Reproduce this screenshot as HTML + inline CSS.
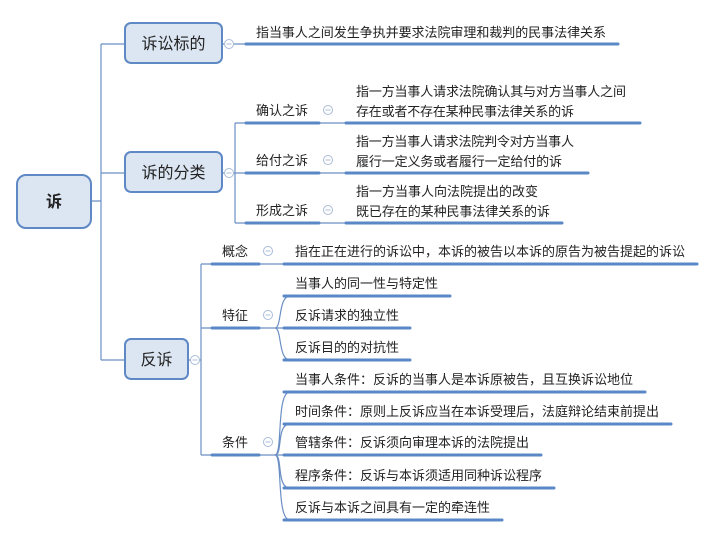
<!DOCTYPE html>
<html><head><meta charset="utf-8"><style>
html,body{margin:0;padding:0;background:#fff;}
svg{display:block;}
text{font-family:"Liberation Sans","Noto Sans CJK SC",sans-serif;fill:#222;}
.t{font-size:13px;}
.b{font-size:16px;}
</style></head><body>
<svg width="715" height="537" viewBox="0 0 715 537" xmlns="http://www.w3.org/2000/svg">
<g fill="none" stroke="#6b8fc4" stroke-width="1.2">
<path d="M91 201 H101 M101 44 V360 M101 44 H125 M101 173 H125 M101 360 H125"/>
<path d="M222 44 H245 M222 173 H235 M235 123 V223 M235 123 H245 M235 173 H245 M235 223 H245"/>
<path d="M320 123 H345 M320 173 H345 M320 223 H345"/>
<path d="M188 360 H201 M201 264 V455 M201 264 H211 M201 328 H211 M201 455 H211"/>
<path d="M260 264 H283 M260 328 H283 M260 455 H283"/>
<path d="M275 328 C282 328 278 296 290 296 M275 328 C282 328 278 360 290 360"/>
<path d="M275 455 C283 455 276 392 290 392 M275 455 C283 455 276 424 290 424 M275 455 C283 455 276 488 290 488 M275 455 C283 455 276 520 290 520"/>
</g>
<g stroke="#5a87c6" stroke-width="3" stroke-linecap="round">
<path d="M246 44 H618"/>
<path d="M246 123 H319 M246 173 H319 M246 223 H319"/>
<path d="M346 123 H640 M346 173 H588 M346 223 H562"/>
<path d="M212 264 H259 M212 328 H259 M212 455 H259"/>
<path d="M284 264 H697"/>
<path d="M284 296 H450 M284 328 H410 M284 360 H410"/>
<path d="M284 392 H645 M284 424 H671 M284 455 H541 M284 488 H554 M284 520 H502"/>
</g>
<g fill="#dce6f2" stroke="#5f89c4" stroke-width="2">
<rect x="17" y="175" width="74" height="53" rx="9"/>
<rect x="125" y="23" width="97" height="40" rx="6"/>
<rect x="125" y="152" width="97" height="40" rx="6"/>
<rect x="125" y="339" width="63" height="40" rx="6"/>
</g>
<g fill="#fff" stroke="#a9bcd8" stroke-width="1">
<circle cx="229" cy="44" r="4.5"/><circle cx="229" cy="173" r="4.5"/><circle cx="195" cy="360" r="4.5"/>
<circle cx="328" cy="110" r="4.5"/><circle cx="328" cy="160" r="4.5"/><circle cx="328" cy="210" r="4.5"/>
<circle cx="268" cy="251" r="4.5"/><circle cx="268" cy="315" r="4.5"/><circle cx="268" cy="442" r="4.5"/>
</g>
<g stroke="#a9bcd8" stroke-width="1">
<path d="M226.5 44 H231.5 M226.5 173 H231.5 M192.5 360 H197.5 M325.5 110 H330.5 M325.5 160 H330.5 M325.5 210 H330.5 M265.5 251 H270.5 M265.5 315 H270.5 M265.5 442 H270.5"/>
</g>
<text x="54" y="207" class="b" text-anchor="middle" font-weight="bold" fill="#333">诉</text>
<text x="173.5" y="49" class="b" text-anchor="middle">诉讼标的</text>
<text x="173.5" y="178" class="b" text-anchor="middle">诉的分类</text>
<text x="156.5" y="365" class="b" text-anchor="middle">反诉</text>
<g class="t">
<text x="256" y="37" textLength="350">指当事人之间发生争执并要求法院审理和裁判的民事法律关系</text>
<text x="256" y="115">确认之诉</text>
<text x="256" y="165">给付之诉</text>
<text x="256" y="215">形成之诉</text>
<text x="356" y="96" textLength="270">指一方当事人请求法院确认其与对方当事人之间</text>
<text x="356" y="116" textLength="218">存在或者不存在某种民事法律关系的诉</text>
<text x="356" y="146" textLength="218">指一方当事人请求法院判令对方当事人</text>
<text x="356" y="166" textLength="206">履行一定义务或者履行一定给付的诉</text>
<text x="356" y="196" textLength="182">指一方当事人向法院提出的改变</text>
<text x="356" y="216" textLength="194">既已存在的某种民事法律关系的诉</text>
<text x="222" y="256">概念</text>
<text x="222" y="320">特征</text>
<text x="222" y="447">条件</text>
<text x="295" y="256" textLength="390">指在正在进行的诉讼中，本诉的被告以本诉的原告为被告提起的诉讼</text>
<text x="295" y="288" textLength="143">当事人的同一性与特定性</text>
<text x="295" y="320" textLength="104">反诉请求的独立性</text>
<text x="295" y="352" textLength="104">反诉目的的对抗性</text>
<text x="295" y="384" textLength="338">当事人条件：反诉的当事人是本诉原被告，且互换诉讼地位</text>
<text x="295" y="416" textLength="364">时间条件：原则上反诉应当在本诉受理后，法庭辩论结束前提出</text>
<text x="295" y="447" textLength="234">管辖条件：反诉须向审理本诉的法院提出</text>
<text x="295" y="480" textLength="247">程序条件：反诉与本诉须适用同种诉讼程序</text>
<text x="295" y="512" textLength="195">反诉与本诉之间具有一定的牵连性</text>
</g>
</svg>
</body></html>
